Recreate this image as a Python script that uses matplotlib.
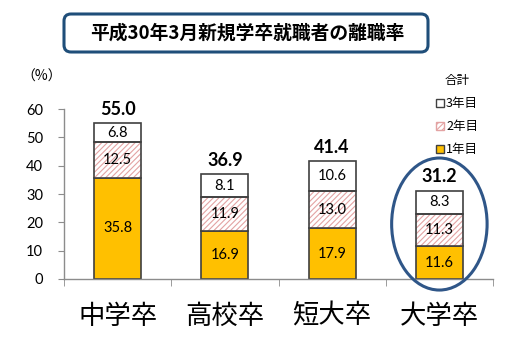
import matplotlib
matplotlib.use("Agg")
import matplotlib.pyplot as plt
from matplotlib.patches import Ellipse, FancyBboxPatch, Patch
import numpy as np

plt.rcParams["font.family"] = ["Noto Sans CJK JP", "DejaVu Sans"]
plt.rcParams["hatch.linewidth"] = 0.8

categories = ["中学卒", "高校卒", "短大卒", "大学卒"]
year1 = [35.8, 16.9, 17.9, 11.6]
year2 = [12.5, 11.9, 13.0, 11.3]
year3 = [6.8, 8.1, 10.6, 8.3]
totals = [55.0, 36.9, 41.4, 31.2]
title = "平成30年3月新規学卒就職者の離職率"

yellow = "#FFC000"
edge = "#404040"
hatch_col = "#E3A3A3"
navy = "#2F5688"

fig = plt.figure(figsize=(5.2, 3.42), dpi=100)
ax = fig.add_axes([64 / 520, 63 / 342, 429 / 520, 170 / 342])

x = np.arange(len(categories))
w = 0.44
b2 = np.array(year1)
b3 = b2 + np.array(year2)
top = b3 + np.array(year3)

ax.bar(x, year1, w, color=yellow, edgecolor=edge, linewidth=1.2, zorder=2)
# hatched middle segment: hatch drawn in pink, outline drawn on top
ax.bar(x, year2, w, bottom=b2, color="white", edgecolor=hatch_col,
       hatch="//////", linewidth=0, zorder=2)
ax.bar(x, year2, w, bottom=b2, color="none", edgecolor=edge,
       linewidth=1.2, zorder=3)
ax.bar(x, year3, w, bottom=b3, color="white", edgecolor=edge,
       linewidth=1.2, zorder=2)

for i in range(len(categories)):
    for val, base in ((year1[i], 0), (year2[i], b2[i]), (year3[i], b3[i])):
        ax.text(x[i], base + val / 2, f"{val:.1f}", ha="center", va="center",
                fontsize=10.5, family=["Lato", "DejaVu Sans"], zorder=4)
    ax.text(x[i], top[i] + 1.8, f"{totals[i]:.1f}", ha="center", va="bottom",
            fontsize=13, fontweight="bold", family=["Lato", "DejaVu Sans"])

ax.set_xlim(-0.5, 3.5)
ax.set_ylim(0, 60)
ax.set_yticks(range(0, 61, 10))
ax.set_xticks(x)
ax.set_xticklabels(categories, fontsize=19)
ax.set_xticks(np.arange(-0.5, 4, 1), minor=True)
ax.tick_params(axis="x", which="major", length=0, pad=17)
ax.tick_params(axis="x", which="minor", length=5, color="#8C8C8C", direction="out")
ax.tick_params(axis="y", length=4, color="#8C8C8C", pad=11, labelsize=10.5)
for lab in ax.get_yticklabels():
    lab.set_family(["Lato", "DejaVu Sans"])
for s in ("top", "right"):
    ax.spines[s].set_visible(False)
for s in ("left", "bottom"):
    ax.spines[s].set_color("#8C8C8C")
    ax.spines[s].set_linewidth(1.0)

# highlight circle around 大学卒
ax.add_patch(Ellipse((3, 19.4), 0.89, 46.6, fill=False, edgecolor=navy,
                     linewidth=2.2, clip_on=False, zorder=5))

fig.text(42 / 520, 1 - 77 / 342, "（%）", ha="center", va="center", fontsize=10)

handles = [
    Patch(facecolor="white", edgecolor=edge, label="3年目"),
    Patch(facecolor="white", edgecolor=hatch_col, hatch="//////", label="2年目"),
    Patch(facecolor=yellow, edgecolor=edge, label="1年目"),
]
leg = fig.legend(handles=handles, title="合計", loc="upper center",
                 bbox_to_anchor=(457 / 520, 1 - 63 / 342), frameon=False,
                 fontsize=9, title_fontsize=9, handlelength=0.6,
                 handleheight=0.6, handletextpad=0.2, labelspacing=0.8)
leg._legend_box.align = "center"

fig.add_artist(FancyBboxPatch((0.64, (342 - 52) / 100), 3.64, 0.38,
                              boxstyle="round,pad=0,rounding_size=0.07",
                              transform=fig.dpi_scale_trans, facecolor="white",
                              edgecolor="#1F4E79", linewidth=2.2))
fig.text(247 / 520, 1 - 33 / 342, title, ha="center", va="center",
         fontsize=13.5, fontweight="bold")

fig.savefig("out.png", dpi=100)
